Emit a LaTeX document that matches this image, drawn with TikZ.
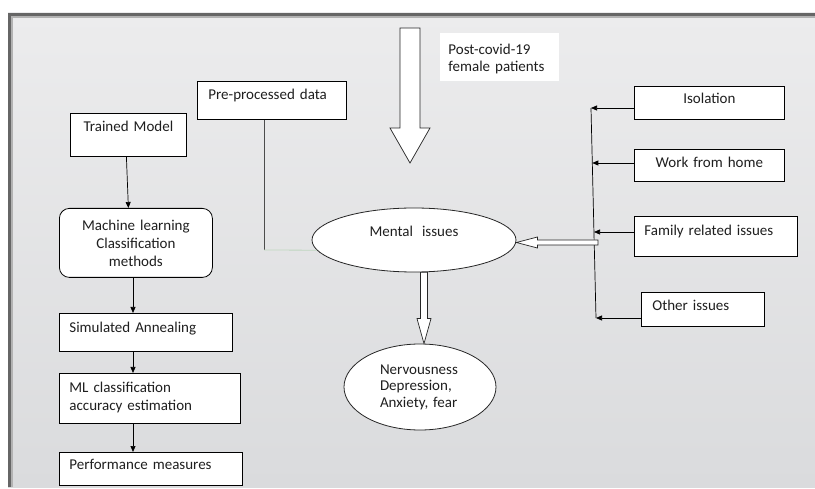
\documentclass[tikz,border=0pt]{standalone}
\usepackage{fontspec}
\setmainfont{Carlito}
\usetikzlibrary{arrows.meta,shapes.geometric,calc}
\begin{document}
\begin{tikzpicture}[x=1pt,y=-1pt,
  txt/.style={font=\fontsize{15}{18}\selectfont, text=black!88},
  box/.style={txt, draw=black, line width=0.8pt, fill=white, rectangle, anchor=north west, inner ysep=0pt},
  arr/.style={-{Triangle[length=6pt,width=5pt]}, line width=0.7pt, black},
  hollow/.style={draw=black!85, fill=white, line width=0.7pt, line join=miter},
  ell/.style={txt, ellipse, draw=black!85, fill=white, line width=0.8pt, inner sep=0pt},
]
\useasboundingbox (0,0) rectangle (815,489);
\fill[white] (0,0) rectangle (815,489);
% panel
\shade[top color={rgb,255:red,236;green,236;blue,237}, middle color={rgb,255:red,244;green,244;blue,244}, bottom color={rgb,255:red,218;green,219;blue,221}] (8,13) rectangle (815,487);
\draw[line width=2.5pt, black!60] (9.3,487) -- (9.3,14.3) -- (815,14.3);
\draw[line width=1.5pt, black!30] (11.8,487) -- (11.8,16.8) -- (815,16.8);

% big input arrow
\draw[hollow] (400,28) -- (420,28) -- (420,128) -- (430,128) -- (410,163) -- (390,128) -- (400,128) -- cycle;

% text box
\node[box, draw=none, minimum width=119pt, inner xsep=8pt, text width=103pt, align=left, text height=21.5pt, text depth=26.5pt, font=\fontsize{15}{17}\selectfont] (pc) at (440,33) {Post-covid-19\\female patients};

% left column
\node[box, minimum width=149pt, inner xsep=11pt, text width=127pt, align=left, text height=18.5pt, text depth=19.5pt] (pp) at (197,81) {Pre-processed data};
\node[box, minimum width=116pt, inner xsep=4pt, text width=108pt, align=center, text height=18.5pt, text depth=24.5pt] (tm) at (70,113) {Trained Model};
\node[box, rounded corners=10pt, minimum width=153pt, inner xsep=4pt, text width=145pt, align=center, text height=22.5pt, text depth=46.5pt] (ml) at (59,208) {Machine learning\\Classification\\methods};
\node[box, minimum width=173pt, inner xsep=10pt, text width=153pt, align=left, text height=19.5pt, text depth=18.5pt] (sa) at (59,313) {Simulated Annealing};
\node[box, minimum width=181pt, inner xsep=10pt, text width=161pt, align=left, text height=19.5pt, text depth=30.5pt] (acc) at (59,373) {ML classification\\accuracy estimation};
\node[box, minimum width=183pt, inner xsep=10pt, text width=163pt, align=left, text height=17.5pt, text depth=15.5pt] (pm) at (59,452) {Performance measures};

% right column
\node[box, minimum width=150pt, inner xsep=4pt, text width=142pt, align=center, text height=17.5pt, text depth=15.5pt] (iso) at (634,86) {Isolation};
\node[box, minimum width=150pt, inner xsep=4pt, text width=142pt, align=center, text height=18.5pt, text depth=13.5pt] (wfh) at (634,149) {Work from home};
\node[box, minimum width=163pt, inner xsep=10pt, text width=143pt, align=left, text height=19.5pt, text depth=20.5pt] (fam) at (634,216) {Family related issues};
\node[box, minimum width=123pt, inner xsep=11pt, text width=101pt, align=left, text height=18.5pt, text depth=15.5pt] (oth) at (641,292) {Other issues};

% ellipses
\node[ell, minimum width=204pt, minimum height=64pt, text height=10pt, text depth=17pt] (me) at (414,240) {Mental\hspace{9pt}issues};
\node[ell, minimum width=152pt, minimum height=86pt, text width=80pt, align=left, text height=11pt, text depth=36pt, font=\fontsize{15}{16.5}\selectfont] (nv) at (420,387) {Nervousness\\Depression,\\Anxiety, fear};

% left column connectors
\coordinate (cx) at (133,0);
\draw[arr] (tm.south) ++(-2,0) -- (tm.south |- ml.north);
\draw[arr] (cx |- ml.south) -- (cx |- sa.north);
\draw[arr] (cx |- sa.south) -- (cx |- acc.north);
\draw[arr] (cx |- acc.south) -- (cx |- pm.north);

% pre-processed to mental
\coordinate (pb) at (264,250);
\draw[black!70, line width=0.7pt] (pb |- pp.south) -- (pb);
\draw[green!35!black!25, line width=0.8pt] (pb) -- (me.186);

% bus
\coordinate (b1) at (591,108);
\coordinate (b2) at (592.3,163);
\coordinate (b3) at (594,232);
\coordinate (b4) at (596,318);
\draw[line width=0.7pt] (b1) -- (b4);
\draw[arr] (b1 -| iso.west) -- (b1);
\draw[arr] (b2 -| wfh.west) -- (b2);
\draw[arr] (b3 -| fam.west) -- (b3);
\draw[arr] (b4 -| oth.west) -- (b4);

% hollow arrow bus -> mental
\coordinate (fe) at (598,242.5);
\draw[hollow] let \p1=(fe), \p2=(fe -| me.east) in
  (\x1,\y1+2.5pt) -- (\x2+21pt,\y1+2.5pt) -- (\x2+21pt,\y1+5.5pt) -- (\x2,\y1)
  -- (\x2+21pt,\y1-5.5pt) -- (\x2+21pt,\y1-2.5pt) -- (\x1,\y1-2.5pt) -- cycle;

% hollow arrow mental -> nervousness
\coordinate (ds) at ($(me.south)+(10,0)$);
\draw[hollow] let \p1=(ds), \p2=(ds |- nv.north) in
  (\x1-3.5pt,\y1) -- (\x1+3.5pt,\y1) -- (\x1+3.5pt,\y2+25pt) -- (\x1+7pt,\y2+25pt)
  -- (\x1,\y2) -- (\x1-7pt,\y2+25pt) -- (\x1-3.5pt,\y2+25pt) -- cycle;
\end{tikzpicture}
\end{document}
